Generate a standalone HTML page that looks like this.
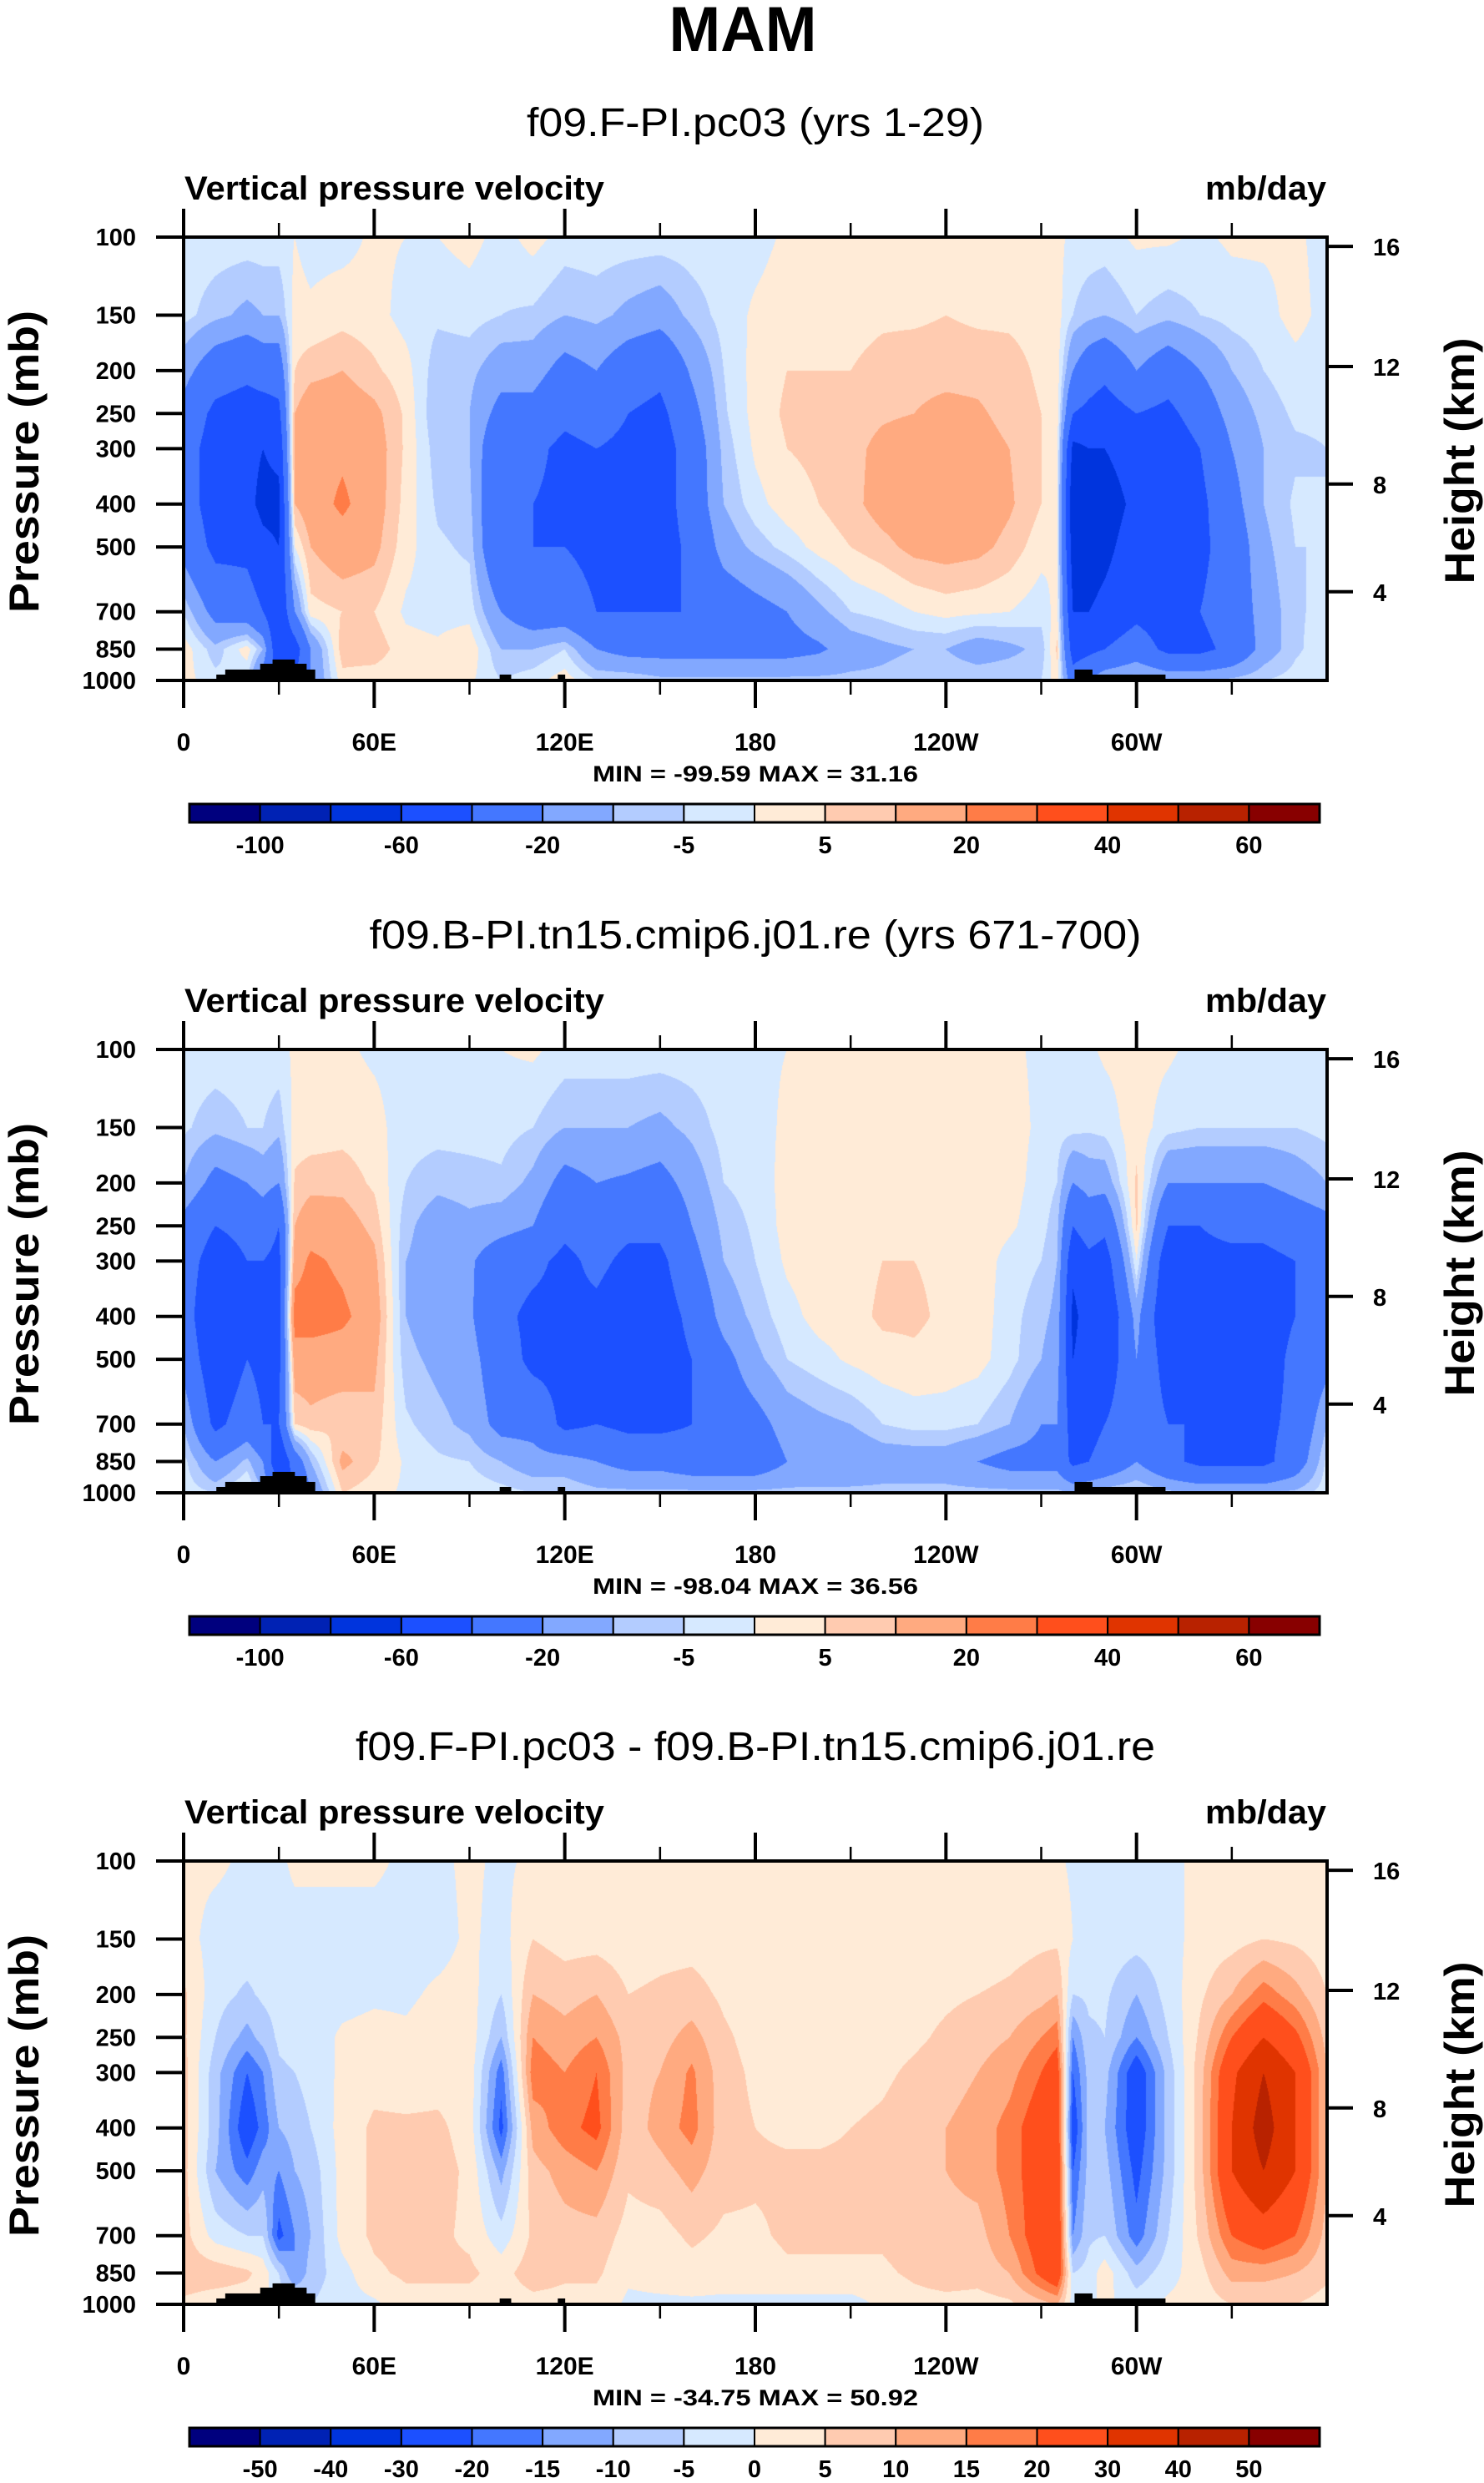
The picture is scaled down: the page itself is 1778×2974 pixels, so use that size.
<!DOCTYPE html>
<html><head><meta charset="utf-8"><title>MAM vertical pressure velocity</title>
<style>
html,body{margin:0;padding:0;background:#fff;}
#wrap{position:relative;width:1778px;height:2974px;overflow:hidden;background:#fff;}
canvas{position:absolute;}
svg{position:absolute;left:0;top:0;}
text{font-family:"Liberation Sans",Arial,sans-serif;fill:#000;}
</style></head>
<body>
<div id="wrap">
<canvas id="c1"></canvas>
<canvas id="c2"></canvas>
<canvas id="c3"></canvas>
<svg id="ov" width="1778" height="2974">
<text x="890" y="61" font-size="76" font-weight="bold" text-anchor="middle" textLength="177" lengthAdjust="spacingAndGlyphs">MAM</text>
</svg>
</div>
<script>
// ---- data ----
const lons=[0,10,20,25,30,35,40,50,60,70,80,90,100,110,120,130,140,150,160,170,180,190,200,210,220,230,240,250,260,270,275,280,285,290,300,310,320,330,340,350,360];
const levels=[100,150,200,250,300,400,500,700,850,1000];
const p1=[
[-2,-3,-15,-25,-30,-30,-25,-5,3,2],
[-2,-8,-30,-45,-50,-50,-45,-25,-8,-3],
[-2,-12,-35,-50,-55,-55,-45,-30,3,-5],
[-2,-10,-30,-50,-60,-65,-55,-40,-10,-30],
[-2,-10,-30,-45,-55,-65,-60,-60,-60,-40],
[0,2,5,10,12,10,0,-20,-50,-40],
[-2,1,8,15,15,15,10,3,-20,-20],
[-2,3,10,15,18,22,15,5,8,3],
[1,2,6,12,14,14,12,5,8,2],
[0,-2,2,4,4,3,2,-1,2,1],
[0,-4,-8,-10,-8,-6,-4,-2,1,0],
[2,-3,-8,-10,-10,-8,-6,-2,4,1],
[-2,-5,-15,-25,-35,-40,-40,-20,-10,-5],
[2,-6,-15,-25,-35,-40,-40,-30,-10,-2],
[-2,-10,-25,-35,-45,-45,-40,-30,-5,3],
[-2,-8,-20,-30,-40,-45,-45,-40,-20,-5],
[-2,-12,-30,-40,-45,-50,-45,-40,-25,-5],
[-2,-15,-35,-45,-50,-50,-50,-40,-25,-8],
[-2,-8,-18,-25,-30,-30,-35,-40,-25,-8],
[-2,-3,-5,-6,-8,-10,-15,-30,-25,-8],
[-2,1,2,2,1,-2,-8,-25,-25,-8],
[1,3,5,6,5,3,-3,-20,-25,-8],
[2,3,5,6,6,5,2,-12,-22,-8],
[2,3,5,7,8,8,5,-5,-15,-8],
[2,4,7,9,12,13,8,-3,-12,-8],
[2,4,8,10,14,15,12,0,-10,-6],
[2,5,8,12,15,16,13,2,-10,-5],
[2,4,8,11,13,15,12,1,-15,-5],
[2,4,7,8,10,11,8,0,-12,-5],
[2,3,4,5,5,5,2,-3,-8,-5],
[2,2,3,3,2,1,0,2,6,3],
[-2,-5,-20,-40,-65,-75,-70,-60,-50,-30],
[-2,-8,-30,-45,-60,-70,-70,-60,-45,-20],
[-2,-10,-35,-50,-60,-70,-65,-55,-40,-10],
[1,-5,-20,-40,-50,-55,-50,-45,-30,-5],
[1,-8,-30,-45,-55,-60,-55,-50,-45,-10],
[-1,-5,-20,-30,-40,-45,-45,-40,-45,-10],
[1,-3,-10,-15,-20,-25,-30,-30,-35,-8],
[1,-2,-5,-8,-10,-10,-12,-15,-15,-5],
[1,2,-2,-4,-6,-4,-5,-6,-6,-3],
[-2,-2,-3,-4,-5,-5,-5,-3,-2,-1]];
const p2=[
[-2,-4,-10,-25,-30,-30,-25,-10,-3,-2],
[-2,-8,-25,-40,-50,-60,-55,-45,-20,-5],
[-2,-5,-20,-35,-40,-45,-40,-30,-8,2],
[-2,-5,-15,-30,-40,-50,-45,-40,-20,-10],
[-2,-8,-20,-40,-45,-45,-45,-40,-60,-30],
[1,2,6,10,15,25,15,5,-30,-50],
[1,2,8,15,22,25,15,8,-10,-20],
[1,3,8,14,18,22,15,5,12,5],
[-1,2,4,8,12,15,12,8,6,2],
[-2,-3,-5,-8,-10,-10,-8,-4,-1,-1],
[-1,-3,-8,-15,-15,-15,-12,-8,-4,-2],
[-1,-3,-7,-12,-18,-18,-15,-12,-5,-2],
[0,-3,-6,-15,-30,-35,-30,-25,-10,-3],
[1,-5,-12,-20,-35,-45,-45,-25,-15,-5],
[-2,-10,-25,-35,-45,-45,-45,-45,-15,-5],
[-2,-10,-20,-30,-35,-45,-50,-40,-20,-8],
[-2,-10,-22,-35,-45,-55,-50,-45,-25,-8],
[-2,-12,-25,-35,-45,-50,-50,-45,-25,-8],
[-2,-8,-15,-20,-25,-35,-40,-40,-30,-8],
[-2,-3,-5,-8,-10,-15,-25,-30,-30,-8],
[-1,-2,-3,-4,-5,-8,-12,-25,-30,-8],
[0,1,2,2,1,-2,-5,-15,-20,-8],
[1,2,3,3,3,2,-2,-12,-18,-8],
[1,3,3,3,3,3,1,-10,-18,-8],
[1,3,3,4,5,6,3,-5,-15,-8],
[1,3,3,4,5,6,4,-3,-15,-8],
[1,3,3,3,4,4,3,-3,-15,-8],
[1,3,3,3,3,3,2,-5,-20,-8],
[1,2,2,1,-2,-3,-3,-10,-25,-8],
[-1,-1,-2,-3,-5,-8,-10,-20,-25,-8],
[-1,-3,-5,-8,-10,-12,-15,-20,-25,-8],
[-1,-3,-20,-40,-55,-65,-60,-50,-45,-10],
[-1,-4,-15,-30,-45,-50,-50,-45,-40,-8],
[1,-3,-15,-35,-50,-60,-55,-40,-35,-5],
[2,3,6,6,0,-15,-20,-25,-20,-3],
[1,-3,-20,-40,-55,-60,-50,-40,-35,-8],
[-2,-5,-20,-40,-45,-45,-45,-40,-45,-10],
[-2,-5,-20,-35,-45,-45,-45,-40,-45,-10],
[-2,-5,-20,-35,-45,-50,-50,-45,-45,-10],
[-2,-5,-15,-30,-40,-40,-35,-35,-30,-8],
[-2,-3,-10,-25,-30,-30,-25,-10,-3,-2]];
const p3=[
[1,2,6,6,7,7,7,7,8,4],
[1,-2,-3,-5,-8,-8,-10,-2,8,2],
[-1,-2,-6,-12,-20,-25,-18,-5,6,2],
[-1,-2,-4,-8,-15,-18,-12,-5,3,1],
[-1,-2,-3,-4,-6,-10,-15,-22,-5,-2],
[1,-2,-3,-3,-5,-8,-10,-15,-15,-3],
[1,-2,-3,-3,-3,-5,-8,-10,-8,-5],
[1,-2,-2,1,1,2,2,2,-2,-2],
[1,-2,-1,2,3,6,6,6,4,-1],
[-1,-2,-1,1,2,6,7,7,6,3],
[-1,-2,1,3,3,6,7,6,6,3],
[1,1,2,3,3,3,4,4,6,3],
[-1,-2,-5,-10,-18,-22,-12,-3,3,2],
[1,5,10,15,18,12,8,6,8,3],
[1,3,8,12,15,18,12,8,6,3],
[1,3,10,15,20,22,15,8,6,3],
[1,2,5,8,8,7,6,3,1,-1],
[1,3,6,8,10,12,8,3,2,-1],
[1,3,7,12,16,17,12,6,3,-1],
[1,2,4,6,7,7,7,4,2,-1],
[1,1,2,3,4,5,6,4,2,-1],
[1,1,2,3,4,4,6,6,4,-2],
[1,1,2,2,3,4,6,6,4,-2],
[1,1,2,2,3,5,6,6,4,-2],
[1,1,2,3,4,6,7,6,4,1],
[1,2,3,4,6,8,8,8,6,3],
[1,2,4,6,8,10,10,8,8,3],
[1,2,5,8,10,12,12,8,7,3],
[1,3,6,10,13,17,17,15,10,4],
[1,4,8,15,20,25,25,25,22,8],
[1,4,10,18,25,28,28,30,28,10],
[-1,0,-5,-15,-20,-25,-20,-15,-5,-2],
[-1,-3,-4,-6,-8,-8,-8,-6,-3,-1],
[-1,-2,-4,-5,-8,-10,-8,-5,3,1],
[-1,-3,-10,-15,-25,-25,-22,-18,-8,-2],
[-1,-2,-3,-5,-8,-8,-8,-5,-2,1],
[1,2,4,6,8,8,8,6,3,2],
[1,3,10,20,28,30,30,20,12,5],
[1,5,18,30,40,45,40,25,12,5],
[1,4,12,22,30,30,30,20,10,5],
[1,2,5,8,10,10,10,8,6,3]];
const levA=[-100,-80,-60,-40,-20,-10,-5,0,5,10,20,30,40,50,60];
const levB=[-50,-40,-30,-20,-15,-10,-5,0,5,10,15,20,30,40,50];
const labA=["-100","","-60","","-20","","-5","","5","","20","","40","","60"];
const labB=["-50","-40","-30","-20","-15","-10","-5","0","5","10","15","20","30","40","50"];
const palette=["#00007e","#0022b4","#0034dd","#1c50ff","#4477ff","#82a8ff","#b3ccff","#d6e9ff","#ffebd7","#ffcbb0","#ffaa80","#ff7c47","#ff4f1c","#e03400","#b82200","#880000"];
const presTicks=[100,150,200,250,300,400,500,700,850,1000];
const hgtTicks=["16","12","8","4"];
const hgtFrac=[0.021,0.292,0.557,0.80];
const lonTickVals=[0,60,120,180,240,300];
const lonTickLabs=["0","60E","120E","180","120W","60W"];
const mtnLon0=[10.3,13.1,24.1,28,34.9,38.6,99.5,117.8,280.5,286];
const mtnLon1=[13.1,24.1,28,34.9,38.6,41.3,103,120,286,309];
const mtnP=[970,945,917,897,917,945,970,970,945,970];
const subtitles=["f09.F-PI.pc03 (yrs 1-29)","f09.B-PI.tn15.cmip6.j01.re (yrs 671-700)","f09.F-PI.pc03 - f09.B-PI.tn15.cmip6.j01.re"];
const subWidths=[548,925,958];
const minmax=["MIN = -99.59  MAX =  31.16","MIN = -98.04  MAX =  36.56","MIN = -34.75  MAX =  50.92"];

// ---- layout ----
const X0=220,X1=1590,PH=531;
const offs=[0,973,1945];
const Y0=284;
function xOf(lon){return X0+(lon/360)*(X1-X0);}
function yFrac(p){return Math.log10(p)-2;}
const NS="http://www.w3.org/2000/svg";
const ov=document.getElementById('ov');
function mk(tag,attrs,parent){const e=document.createElementNS(NS,tag);for(const k in attrs)e.setAttribute(k,attrs[k]);(parent||ov).appendChild(e);return e;}

function colorIdx(v,lev){let i=0;while(i<lev.length&&v>=lev[i])i++;return i;}
function hexRGB(h){return [parseInt(h.substr(1,2),16),parseInt(h.substr(3,2),16),parseInt(h.substr(5,2),16)];}
const palRGB=palette.map(hexRGB);
const lf=levels.map(yFrac);

function drawField(cid,data,lev,top){
  const c=document.getElementById(cid);
  const W=X1-X0,H=PH;
  c.width=W;c.height=H;c.style.left=X0+'px';c.style.top=top+'px';
  const ctx=c.getContext('2d');
  const img=ctx.createImageData(W,H);
  const cx=[],cw=[];
  for(let x=0;x<W;x++){const lon=(x+0.5)/W*360;let i=0;while(i<lons.length-2&&lon>lons[i+1])i++;cx.push(i);cw.push((lon-lons[i])/(lons[i+1]-lons[i]));}
  const ry=[],rw=[];
  for(let y=0;y<H;y++){const f=(y+0.5)/H;let j=0;while(j<lf.length-2&&f>lf[j+1])j++;ry.push(j);rw.push((f-lf[j])/(lf[j+1]-lf[j]));}
  for(let y=0;y<H;y++){const j=ry[y],b=rw[y];
    for(let x=0;x<W;x++){const i=cx[x],a=cw[x];
      const v=(1-a)*((1-b)*data[i][j]+b*data[i][j+1])+a*((1-b)*data[i+1][j]+b*data[i+1][j+1]);
      const col=palRGB[colorIdx(v,lev)];const k=(y*W+x)*4;
      img.data[k]=col[0];img.data[k+1]=col[1];img.data[k+2]=col[2];img.data[k+3]=255;}}
  ctx.putImageData(img,0,0);
}

const fields=[p1,p2,p3];
const levSets=[levA,levA,levB];
const labSets=[labA,labA,labB];
for(let n=0;n<3;n++){
  const o=offs[n],top=Y0+o,bot=top+PH;
  drawField('c'+(n+1),fields[n],levSets[n],top);
  const g=mk('g',{});
  
  
  const st=mk('text',{x:905,y:163+o,'font-size':48,'text-anchor':'middle',textLength:subWidths[n],lengthAdjust:'spacingAndGlyphs'},g);st.textContent=subtitles[n];
  
  
  const vl=mk('text',{x:221,y:239+o,'font-size':40,'font-weight':'bold',textLength:503,lengthAdjust:'spacingAndGlyphs'},g);vl.textContent='Vertical pressure velocity';
  
  
  const ul=mk('text',{x:1589,y:239+o,'font-size':40,'font-weight':'bold','text-anchor':'end',textLength:145,lengthAdjust:'spacingAndGlyphs'},g);ul.textContent='mb/day';
  
  
  for(let m=0;m<mtnP.length;m++){
    const yt=top+yFrac(mtnP[m])*PH;
    const r=mk('rect',{x:xOf(mtnLon0[m]),y:yt,width:xOf(mtnLon1[m])-xOf(mtnLon0[m])+0.5,height:bot-yt,fill:'#000'},g);
    
    
  }
  const fr=mk('rect',{x:X0,y:top,width:X1-X0,height:PH,fill:'none',stroke:'#000','stroke-width':4},g);
  
  
  for(let k=0;k<presTicks.length;k++){
    const y=top+yFrac(presTicks[k])*PH;
    const t=mk('line',{x1:187,x2:X0,y1:y,y2:y,stroke:'#000','stroke-width':4},g);
    
    
    const l=mk('text',{x:163,y:y+10,'font-size':29,'font-weight':'bold','text-anchor':'end'},g);l.textContent=String(presTicks[k]);
    
    
  }
  for(let k=0;k<hgtTicks.length;k++){
    const y=top+hgtFrac[k]*PH;
    const t=mk('line',{x1:X1,x2:1621,y1:y,y2:y,stroke:'#000','stroke-width':4},g);
    
    
    const l=mk('text',{x:1645,y:y+11,'font-size':29,'font-weight':'bold'},g);l.textContent=hgtTicks[k];
    
    
  }
  for(let lon=0;lon<360;lon+=30){
    const x=xOf(lon),maj=(lon%60===0);
    const a=mk('line',{x1:x,x2:x,y1:top,y2:top-(maj?34:17),stroke:'#000','stroke-width':maj?4:2.5},g);
    
    
    const b=mk('line',{x1:x,x2:x,y1:bot,y2:bot+(maj?33:17),stroke:'#000','stroke-width':maj?4:2.5},g);
    
    
  }
  for(let k=0;k<lonTickVals.length;k++){
    const l=mk('text',{x:xOf(lonTickVals[k]),y:bot+84,'font-size':30,'font-weight':'bold','text-anchor':'middle'},g);l.textContent=lonTickLabs[k];
    
    
  }
  const mm=mk('text',{x:905,y:bot+121,'font-size':27,'font-weight':'bold','text-anchor':'middle',textLength:390,lengthAdjust:'spacingAndGlyphs'},g);mm.textContent=minmax[n];
  
  
  const pt=mk('text',{x:0,y:0,'font-size':50,'font-weight':'bold','text-anchor':'middle',textLength:362,lengthAdjust:'spacingAndGlyphs',transform:'translate(46,'+(553+o)+') rotate(-90)'},g);pt.textContent='Pressure (mb)';
  
  
  const ht=mk('text',{x:0,y:0,'font-size':50,'font-weight':'bold','text-anchor':'middle',textLength:295,lengthAdjust:'spacingAndGlyphs',transform:'translate(1766,'+(552+o)+') rotate(-90)'},g);ht.textContent='Height (km)';
  
  
  const cbX=227,cbW=1354,cbT=963+o,cbH=22,bw=cbW/16;
  for(let k=0;k<16;k++){
    const r=mk('rect',{x:cbX+k*bw,y:cbT,width:bw,height:cbH,fill:palette[k],stroke:'#000','stroke-width':2},g);
    
    
  }
  const cbf=mk('rect',{x:cbX,y:cbT,width:cbW,height:cbH,fill:'none',stroke:'#000','stroke-width':3},g);
  
  
  const labs=labSets[n];
  for(let k=0;k<labs.length;k++){
    if(!labs[k])continue;
    const l=mk('text',{x:cbX+(k+1)*bw,y:1022+o,'font-size':29,'font-weight':'bold','text-anchor':'middle'},g);l.textContent=labs[k];
    
    
  }
}
</script>
</body></html>
